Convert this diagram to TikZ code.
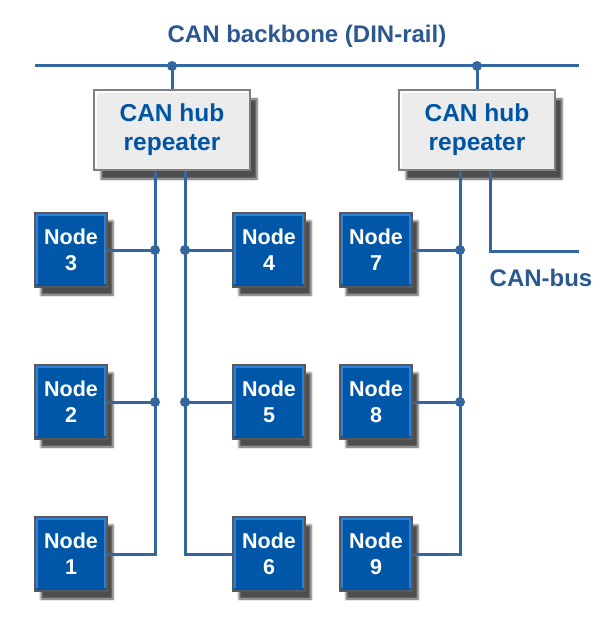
\documentclass[tikz,border=0pt]{standalone}
\usepackage{fontspec}
\setmainfont{Liberation Sans}
\usetikzlibrary{positioning,shadows.blur}
\definecolor{nodeblue}{RGB}{0,87,168}
\definecolor{rimblue}{RGB}{45,128,215}
\definecolor{buscol}{RGB}{52,102,160}
\definecolor{hubtext}{RGB}{0,84,164}
\definecolor{hubfill}{RGB}{236,236,236}
\definecolor{labcol}{RGB}{44,88,145}

\begin{document}
\begin{tikzpicture}[x=1pt,y=-1pt,node distance=152pt,
	can node/.style={rectangle,draw=gray!70!black,line width=1.5pt,fill=nodeblue,
		minimum width=72pt,minimum height=74pt,align=center,text=white,
		font=\bfseries\fontsize{21.5}{26}\selectfont,
		blur shadow={shadow xshift=6pt,shadow yshift=-8pt,shadow opacity=70},
		path picture={\draw[rimblue,line width=2pt]
			([shift={(2pt,3pt)}]path picture bounding box.south west)
			-- ([shift={(2pt,-2pt)}]path picture bounding box.north west)
			-- ([shift={(-2pt,-2pt)}]path picture bounding box.north east)
			-- ([shift={(-2pt,3pt)}]path picture bounding box.south east);}},
	hub node/.style={rectangle,draw=gray,line width=2pt,fill=hubfill,
		minimum width=156pt,minimum height=80pt,align=center,text=hubtext,
		font=\bfseries\fontsize{24.5}{29}\selectfont,
		blur shadow={shadow xshift=7pt,shadow yshift=-9pt,shadow opacity=70},
		path picture={\draw[white,line width=2pt]
			([shift={(2pt,2pt)}]path picture bounding box.south west)
			-- ([shift={(2pt,-2pt)}]path picture bounding box.north west)
			-- ([shift={(-2pt,-2pt)}]path picture bounding box.north east);}},
	bus/.style={draw=buscol,line width=3pt},
	tap/.style={circle,fill=buscol,inner sep=0pt,minimum size=10pt},
	bus label/.style={text=labcol,font=\bfseries\fontsize{24}{28}\selectfont}]

	\useasboundingbox (0,0) rectangle (613,620);

	\node[bus label] (title) at (307,36) {CAN backbone (DIN-rail)};
	\coordinate (bbwest) at (35,66);
	\coordinate (bbeast) at (579,66);

	\node[hub node] (hub1) at (172,130) {CAN hub\\repeater};
	\node[hub node] (hub2) at (477,130) {CAN hub\\repeater};

	\node[can node] (n3) at (71,250) {Node\\3};
	\node[can node] (n2) [below of=n3] {Node\\2};
	\node[can node] (n1) [below of=n2] {Node\\1};

	\node[can node] (n4) at (269,250) {Node\\4};
	\node[can node] (n5) [below of=n4] {Node\\5};
	\node[can node] (n6) [below of=n5] {Node\\6};

	\node[can node] (n7) at (376,250) {Node\\7};
	\node[can node] (n8) [below of=n7] {Node\\8};
	\node[can node] (n9) [below of=n8] {Node\\9};

	\coordinate (t1) at ([xshift=-17pt]hub1.south);
	\coordinate (t2) at ([xshift=13pt]hub1.south);
	\coordinate (t3) at ([xshift=-17pt]hub2.south);
	\coordinate (t4) at ([xshift=13pt]hub2.south);
	\coordinate (busend) at (579,251);

	\draw[bus] (bbwest) -- (bbeast)
		(hub1.north) -- (hub1.north |- bbwest)
		(hub2.north) -- (hub2.north |- bbwest)
		(t1) |- (n1.east)
		(t1 |- n3.east) -- (n3.east)
		(t1 |- n2.east) -- (n2.east)
		(t2) |- (n6.west)
		(t2 |- n4.west) -- (n4.west)
		(t2 |- n5.west) -- (n5.west)
		(t3) |- (n9.east)
		(t3 |- n7.east) -- (n7.east)
		(t3 |- n8.east) -- (n8.east)
		(t4) |- (busend);

	\node[tap] (bb1) at (hub1.north |- bbwest) {};
	\node[tap] (bb2) at (hub2.north |- bbwest) {};
	\foreach \n in {n3,n2} \node[tap] (d\n) at (t1 |- \n.east) {};
	\foreach \n in {n4,n5} \node[tap] (d\n) at (t2 |- \n.west) {};
	\foreach \n in {n7,n8} \node[tap] (d\n) at (t3 |- \n.east) {};

	\node[bus label] (canbus) at (541,278) {CAN-bus};
\end{tikzpicture}
\end{document}
